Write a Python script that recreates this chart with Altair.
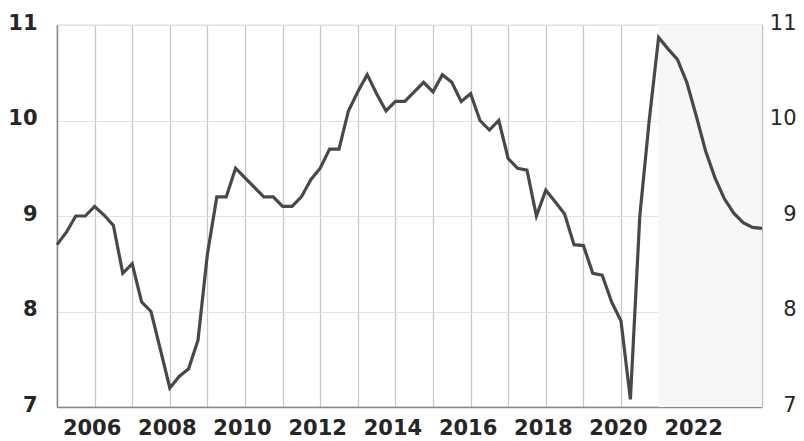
import altair as alt
import pandas as pd

# Quarterly observations (decimal year of quarter start)
quarters = [2005.0 + 0.25 * i for i in range(76)]
values = [
    8.70, 8.83, 9.00, 9.00,   # 2005
    9.10, 9.01, 8.90, 8.40,   # 2006
    8.50, 8.10, 8.00, 7.60,   # 2007
    7.20, 7.32, 7.40, 7.70,   # 2008
    8.60, 9.20, 9.20, 9.50,   # 2009
    9.40, 9.30, 9.20, 9.20,   # 2010
    9.10, 9.10, 9.20, 9.38,   # 2011
    9.50, 9.70, 9.70, 10.10,  # 2012
    10.30, 10.48, 10.28, 10.10,  # 2013
    10.20, 10.20, 10.30, 10.40,  # 2014
    10.30, 10.48, 10.40, 10.20,  # 2015
    10.28, 10.00, 9.90, 10.00,   # 2016
    9.60, 9.50, 9.48, 9.00,      # 2017
    9.27, 9.15, 9.02, 8.70,      # 2018
    8.69, 8.40, 8.38, 8.10,      # 2019
    7.90, 7.08, 9.00, 10.00,     # 2020
    10.87, 10.75, 10.64, 10.40,  # 2021
    10.05, 9.68, 9.40, 9.18,     # 2022
    9.03, 8.93, 8.88, 8.87,      # 2023
]

y_ticks = [7, 8, 9, 10, 11]
x_grid_years = list(range(2006, 2024))
x_domain = [2005.0, 2023.75]
y_domain = [7, 11]
shade_start = [2021.0]
shade_end = [2023.75]

df = pd.DataFrame({"t": quarters, "v": values})
shade_df = pd.DataFrame({"s": shade_start, "e": shade_end})

W, H = 705, 382
FONT = "DejaVu Sans"

xscale = alt.Scale(domain=x_domain, nice=False, zero=False)
yscale = alt.Scale(domain=y_domain, nice=False, zero=False)

x_axis = alt.Axis(
    values=x_grid_years,
    format="d",
    labelExpr="datum.value % 2 == 0 ? datum.label : ''",
    grid=True,
    gridColor="#c8c8c8",
    gridWidth=1.3,
    ticks=False,
    domainColor="#888888",
    domainWidth=1.5,
    labelFont=FONT,
    labelFontSize=21,
    labelFontWeight="bold",
    labelColor="#262626",
    labelPadding=10,
    labelOffset=-3,
    labelFlush=False,
    labelOverlap=False,
    title=None,
)

shade = alt.Chart(shade_df).mark_rect(color="#f7f7f7").encode(
    x=alt.X("s:Q", scale=xscale, axis=x_axis),
    x2="e:Q",
    y=alt.value(0),
    y2=alt.value(H),
)

line = alt.Chart(df).mark_line(color="#484848", strokeWidth=3.2).encode(
    x=alt.X("t:Q", scale=xscale, axis=x_axis),
    y=alt.Y(
        "v:Q",
        scale=yscale,
        axis=alt.Axis(
            values=y_ticks,
            grid=True,
            gridColor="#e2e2e2",
            gridWidth=1.2,
            ticks=False,
            domainColor="#888888",
            domainWidth=1.5,
            labelFont=FONT,
            labelFontSize=21,
            labelFontWeight="bold",
            labelColor="#262626",
            labelPadding=20,
            labelOffset=-2,
            labelFlush=False,
            title=None,
        ),
    ),
)

right = alt.Chart(df).mark_line(opacity=0).encode(
    x=alt.X("t:Q", scale=xscale, axis=x_axis),
    y=alt.Y(
        "v:Q",
        scale=yscale,
        axis=alt.Axis(
            orient="right",
            values=y_ticks,
            grid=False,
            ticks=False,
            domainColor="#bbbbbb",
            domainWidth=1.2,
            labelFont=FONT,
            labelFontSize=21,
            labelColor="#262626",
            labelAlign="right",
            labelPadding=34,
            labelOffset=-2,
            labelFlush=False,
            title=None,
        ),
    ),
)

chart = (
    alt.layer(shade, line, right)
    .resolve_scale(y="independent")
    .properties(
        width=W,
        height=H,
        autosize="none",
        padding={"left": 49, "top": 17, "right": 34, "bottom": 33},
        background="white",
    )
    .configure_view(stroke="#bbbbbb", strokeWidth=1.2)
)

chart.save("out.html", embed_options={"renderer": "svg", "actions": False})
